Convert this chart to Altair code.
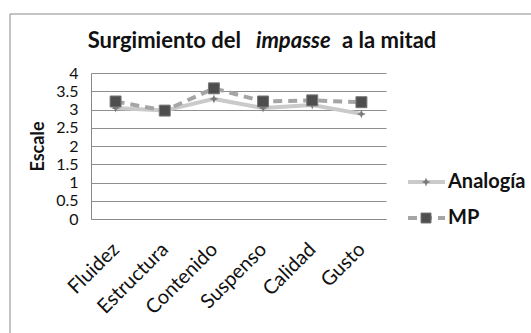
import altair as alt
import pandas as pd

# Categories and series values
categories = ["Fluidez", "Estructura", "Contenido", "Suspenso", "Calidad", "Gusto"]
analogia = [3.04, 2.97, 3.29, 3.04, 3.12, 2.88]
mp = [3.22, 2.97, 3.58, 3.22, 3.25, 3.20]
series_names = ["Analogía", "MP"]
y_ticks = [0, 0.5, 1, 1.5, 2, 2.5, 3, 3.5, 4]

title_parts = ["Surgimiento del", "impasse", "a la mitad"]

FONT = "Lato"
W, H = 295, 146

df = pd.DataFrame({
    "cat": categories * 2,
    "value": analogia + mp,
    "series": [series_names[0]] * len(categories) + [series_names[1]] * len(categories),
})
df_a = df[df.series == series_names[0]]
df_m = df[df.series == series_names[1]]

star_path = "M0,-1L0.28,-0.28L1,0L0.28,0.28L0,1L-0.28,0.28L-1,0L-0.28,-0.28Z"

x_enc = alt.X("cat:N", sort=categories, title=None,
              scale=alt.Scale(paddingInner=0, paddingOuter=0.5),
              axis=alt.Axis(labelAngle=-45, labelAlign="right", labelBaseline="middle",
                            labelFont=FONT, labelFontSize=20, labelColor="#111",
                            labelPadding=27, ticks=False, domainColor="#8a8a8a",
                            domainWidth=1, grid=False))
y_enc = alt.Y("value:Q", title="Escale",
              scale=alt.Scale(domain=[0, 4], nice=False),
              axis=alt.Axis(values=y_ticks, format="~g", labelFont=FONT, labelFontSize=16,
                            labelColor="#111", labelPadding=13, ticks=False, domain=True,
                            domainColor="#8a8a8a", domainWidth=1,
                            gridColor="#8e8e8e", gridWidth=1,
                            titleFont=FONT, titleFontSize=18, titleFontWeight="bold",
                            titleColor="#111", titlePadding=8))

line_a = alt.Chart(df_a).mark_line(color="#cacaca", strokeWidth=4).encode(x=x_enc, y=y_enc)
pts_a = alt.Chart(df_a).mark_point(shape=star_path, size=80, filled=True,
                                   color="#7a7a7a", opacity=1).encode(x=x_enc, y=y_enc)
line_m = alt.Chart(df_m).mark_line(color="#a5a5a5", strokeWidth=4,
                                   strokeDash=[9, 6]).encode(x=x_enc, y=y_enc)
pts_m = alt.Chart(df_m).mark_point(shape="square", size=120, filled=True,
                                   color="#4e4e4e", stroke="#777777", strokeWidth=1,
                                   opacity=1).encode(x=x_enc, y=y_enc)

# Outer chart frame
frame = alt.Chart(df.head(1)).mark_rect(fill=None, stroke="#8a8a8a", strokeWidth=1,
                                        clip=False).encode(
    x=alt.value(-81), x2=alt.value(600), y=alt.value(-59), y2=alt.value(400))

# Title with italic middle word
title_style = dict(font=FONT, fontSize=22, fontWeight="bold", color="#111",
                   baseline="alphabetic")
t1 = alt.Chart(df.head(1)).mark_text(align="right", text=title_parts[0], **title_style).encode(
    x=alt.value(150), y=alt.value(-25))
t2 = alt.Chart(df.head(1)).mark_text(align="left", text=title_parts[1], fontStyle="italic",
                                     **title_style).encode(x=alt.value(165), y=alt.value(-25))
t3 = alt.Chart(df.head(1)).mark_text(align="left", text=title_parts[2], **title_style).encode(
    x=alt.value(251), y=alt.value(-25))

# Legend
legend_layers = []
leg_y = [109, 145]
for name, ly in zip(series_names, leg_y):
    one = pd.DataFrame({"series": [name]})
    if name == series_names[0]:
        ln = alt.Chart(one).mark_rule(color="#cacaca", strokeWidth=4).encode(
            x=alt.value(317), x2=alt.value(354), y=alt.value(ly))
        mk = alt.Chart(one).mark_point(shape=star_path, size=80, filled=True,
                                       color="#7a7a7a", opacity=1).encode(
            x=alt.value(335), y=alt.value(ly))
    else:
        ln = alt.Chart(one).mark_rule(color="#a5a5a5", strokeWidth=4,
                                      strokeDash=[9, 6]).encode(
            x=alt.value(317), x2=alt.value(354), y=alt.value(ly))
        mk = alt.Chart(one).mark_point(shape="square", size=100, filled=True,
                                       color="#4e4e4e", stroke="#777777", strokeWidth=1,
                                       opacity=1).encode(x=alt.value(335), y=alt.value(ly))
    tx = alt.Chart(one).mark_text(align="left", baseline="middle", font=FONT, fontSize=20,
                                  fontWeight="bold", color="#111").encode(
        x=alt.value(357), y=alt.value(ly), text="series:N")
    legend_layers += [ln, mk, tx]

chart = alt.layer(frame, line_a, pts_a, line_m, pts_m, t1, t2, t3, *legend_layers).properties(
    width=W, height=H,
    autosize=alt.AutoSizeParams(type="none"),
    padding={"left": 91, "top": 73, "right": 531 - 91 - W, "bottom": 333 - 73 - H},
    background="white",
).configure_view(stroke=None)

chart.save("out.html", embed_options={"renderer": "svg", "actions": False})
